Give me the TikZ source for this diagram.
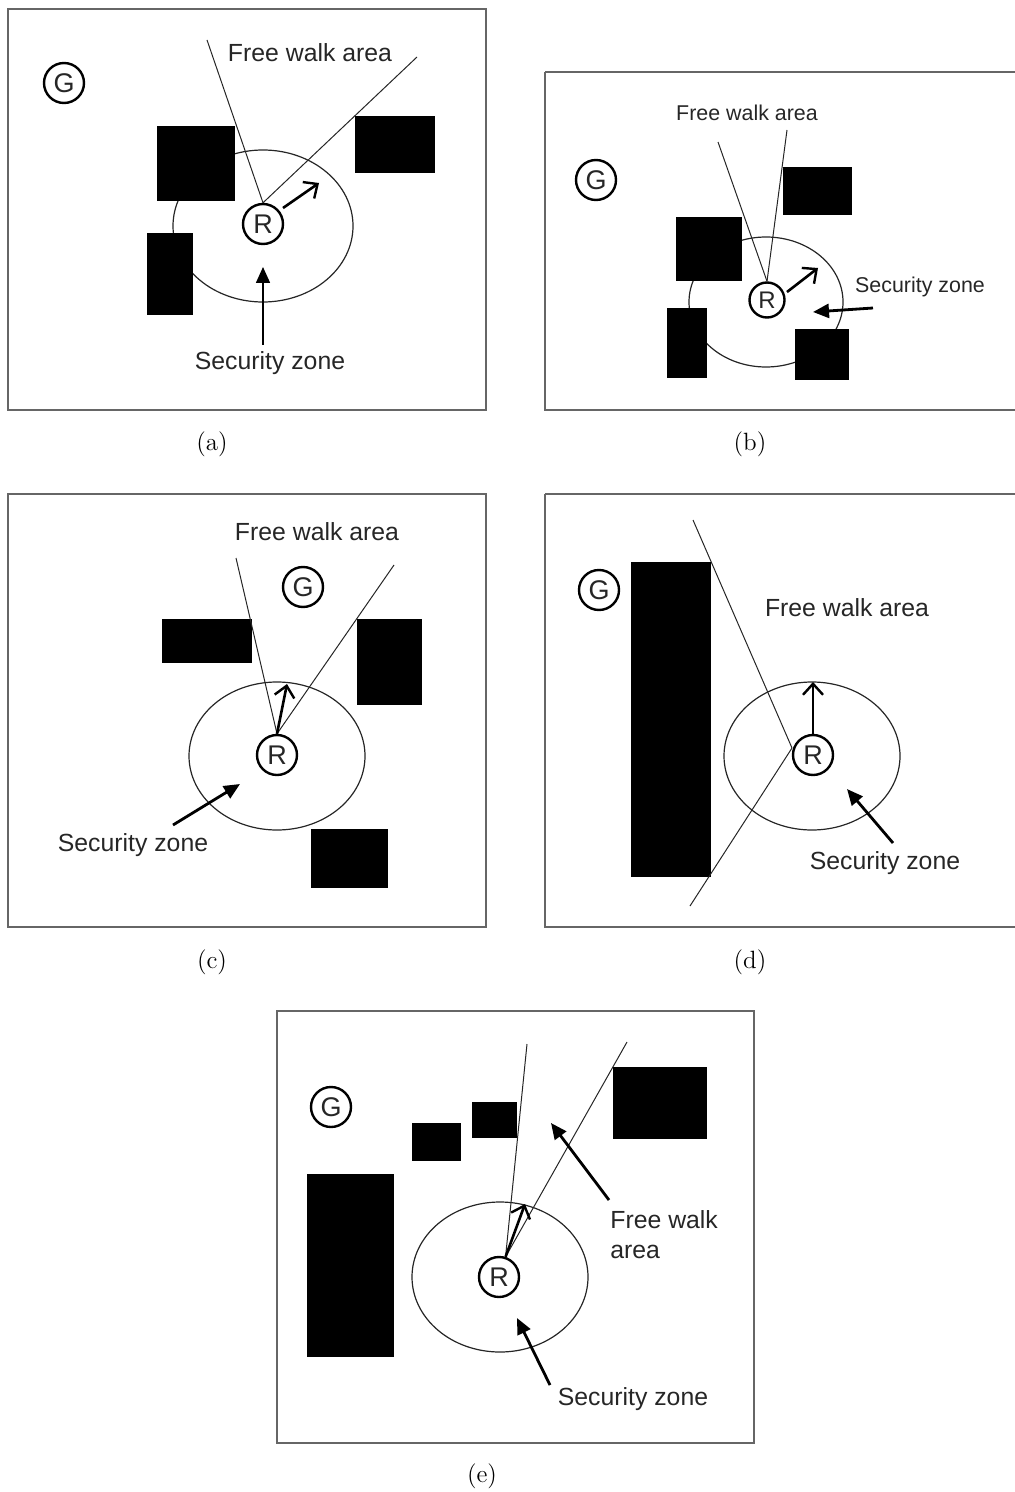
\documentclass[tikz,border=0pt]{standalone}
\usepackage{fontspec}
\newfontfamily\sansfont{Liberation Sans}
\usetikzlibrary{arrows.meta}
\begin{document}
\begin{tikzpicture}[x=0.5pt,y=-0.5pt,
  panel/.style={draw=black!60, line width=0.8pt},
  obstacle/.style={fill=black},
  zone/.style={draw=black!85, line width=0.6pt},
  ray/.style={draw=black!85, line width=0.5pt},
  agent/.style={circle, draw=black, line width=1.2pt, minimum size=20pt, inner sep=0pt,
    font=\sansfont\fontsize{13.5}{15}\selectfont, text=black!85},
  smallagent/.style={agent, minimum size=17.5pt, font=\sansfont\fontsize{12}{13}\selectfont},
  heading/.style={-{Straight Barb[length=5.5pt,width=10pt,line width=1.2pt]}, line width=1.3pt, draw=black},
  pointer/.style={-{Triangle[length=8pt,width=7pt]}, line width=1.4pt, draw=black},
  thinpointer/.style={pointer, line width=0.8pt},
  tag/.style={font=\sansfont\fontsize{12.4}{15}\selectfont, text=black!85, inner sep=0pt},
  smalltag/.style={font=\sansfont\fontsize{10.7}{13}\selectfont, text=black!85, inner sep=0pt},
  caption/.style={font=\fontsize{12.5}{15}\selectfont, inner sep=0pt}]
\useasboundingbox (0,0) rectangle (1015,1492);

% ---------------- (a) ----------------
\draw[panel] (8,9) rectangle (486,410);
\draw[zone] (263,226) ellipse [x radius=45pt, y radius=38pt];
\fill[obstacle] (157,126) rectangle (235,201);
\fill[obstacle] (355,116) rectangle (435,173);
\fill[obstacle] (147,233) rectangle (193,315);
\node[agent] (Ga) at (64,83) {G};
\node[agent] (Ra) at (263,224) {R};
\coordinate (La1) at (207,40);
\coordinate (La2) at (417,57);
\draw[ray] (Ra.north) -- (La1);
\draw[ray] (Ra.north) -- (La2);
\coordinate (Ha) at (319,183);
\draw[heading] (283,208) -- (Ha);
\node[tag] (Fa) at (310,53) {Free walk area};
\node[tag] (Sa) at (270,363) {Security zone};
\coordinate (Pa) at (263,267);
\draw[thinpointer] (263,345) -- (Pa);
\node[caption] (Ca) at (212,444) {(a)};

% ---------------- (b) ----------------
\draw[panel] (545,72) -- (1018,72) (545,72) -- (545,410) -- (1018,410);
\draw[zone] (766,302) ellipse [x radius=38.5pt, y radius=32.5pt];
\fill[obstacle] (676,217) rectangle (742,281);
\fill[obstacle] (783,167) rectangle (852,215);
\fill[obstacle] (667,308) rectangle (707,378);
\fill[obstacle] (795,329) rectangle (849,380);
\node[agent] (Gb) at (596,180) {G};
\node[smallagent] (Rb) at (767,300) {R};
\coordinate (Lb1) at (718,142);
\coordinate (Lb2) at (787,130);
\draw[ray] (Rb.north) -- (Lb1);
\draw[ray] (Rb.north) -- (Lb2);
\coordinate (Hb) at (818,268);
\draw[heading] (787,292) -- (Hb);
\node[smalltag] (Fb) at (747,113) {Free walk area};
\node[smalltag] (Sb) at (920,287) {Security zone};
\coordinate (Pb) at (813,312);
\draw[pointer] (873,308) -- (Pb);
\node[caption] (Cb) at (750,444) {(b)};

% ---------------- (c) ----------------
\draw[panel] (8,494) rectangle (486,927);
\draw[zone] (277,756) ellipse [x radius=44pt, y radius=37pt];
\fill[obstacle] (162,619) rectangle (252,663);
\fill[obstacle] (357,619) rectangle (422,705);
\fill[obstacle] (311,829) rectangle (388,888);
\node[agent] (Gc) at (303,587) {G};
\node[agent] (Rc) at (277,755) {R};
\coordinate (Lc1) at (236,558);
\coordinate (Lc2) at (394,565);
\draw[ray] (Rc.north) -- (Lc1);
\draw[ray] (Rc.north) -- (Lc2);
\coordinate (Hc) at (287,684);
\draw[heading] (Rc.north) -- (Hc);
\node[tag] (Fc) at (317,532) {Free walk area};
\node[tag] (Sc) at (133,845) {Security zone};
\coordinate (Pc) at (240,784);
\draw[pointer] (173,825) -- (Pc);
\node[caption] (Cc) at (212,962) {(c)};

% ---------------- (d) ----------------
\draw[panel] (545,494) -- (1018,494) (545,494) -- (545,927) -- (1018,927);
\draw[zone] (812,756) ellipse [x radius=44pt, y radius=37pt];
\fill[obstacle] (631,562) rectangle (711,877);
\node[agent] (Gd) at (599,590) {G};
\node[agent] (Rd) at (813,755) {R};
\coordinate (Ld1) at (693,520);
\coordinate (Ld2) at (690,906);
\coordinate (Xd) at (792,748);
\draw[ray] (Xd) -- (Ld1);
\draw[ray] (Xd) -- (Ld2);
\coordinate (Hd) at (813,682);
\draw[heading] (Rd.north) -- (Hd);
\node[tag] (Fd) at (847,608) {Free walk area};
\node[tag] (Sd) at (885,863) {Security zone};
\coordinate (Pd) at (847,789);
\draw[pointer] (893,843) -- (Pd);
\node[caption] (Cd) at (750,962) {(d)};

% ---------------- (e) ----------------
\draw[panel] (277,1011) rectangle (754,1443);
\draw[zone] (500,1277) ellipse [x radius=44pt, y radius=37.5pt];
\fill[obstacle] (307,1174) rectangle (394,1357);
\fill[obstacle] (412,1123) rectangle (461,1161);
\fill[obstacle] (472,1102) rectangle (517,1138);
\fill[obstacle] (613,1067) rectangle (707,1139);
\node[agent] (Ge) at (331,1107) {G};
\node[agent] (Re) at (499,1277) {R};
\coordinate (Le1) at (527,1044);
\coordinate (Le2) at (627,1042);
\draw[ray] (Re.72) -- (Le1);
\draw[ray] (Re.72) -- (Le2);
\coordinate (He) at (525,1204);
\draw[heading] (Re.72) -- (He);
\node[tag, align=left, anchor=west] (Fe) at (610,1235) {Free walk\\area};
\coordinate (Pf) at (551,1123);
\draw[pointer] (609,1200) -- (Pf);
\node[tag] (Se) at (633,1399) {Security zone};
\coordinate (Pe) at (517,1318);
\draw[pointer] (550,1385) -- (Pe);
\node[caption] (Ce) at (482,1476) {(e)};
\end{tikzpicture}
\end{document}
